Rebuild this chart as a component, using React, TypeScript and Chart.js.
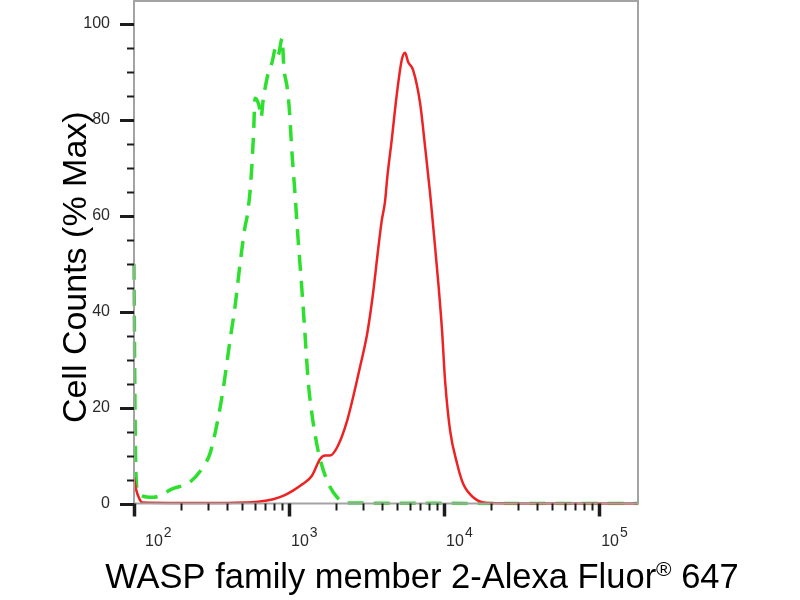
import React, { useEffect, useRef } from "react";
import { Chart, registerables } from "chart.js";

Chart.register(...registerables);

// ---- data ----
const redX = [100, 103, 109, 113, 200, 400, 520, 650, 790, 915, 1060, 1230, 1405, 1585, 1710, 1840, 2070, 2370, 2590, 2870, 3190, 3480, 3770, 3960, 4160, 4300, 4600, 4960, 5330, 5600, 5860, 6310, 7000, 7540, 8120, 8490, 9140, 9700, 10140, 10930, 12130, 13270, 15390, 18930, 40000, 178000];
const redY = [5.5, 3, 0.8, 0.2, 0.1, 0.1, 0.2, 0.4, 0.9, 1.6, 2.7, 4.1, 5.8, 9.3, 10, 10, 12.1, 17.3, 22.2, 28.5, 35.4, 43.8, 53.5, 59, 63, 68, 76, 85.5, 92.5, 94, 92.1, 90.4, 83.5, 74.4, 64.7, 58, 46.6, 36, 25.7, 15.2, 8.3, 4.1, 1.3, 0.1, 0, 0];

const greenX = [100, 101.5, 103, 106, 109, 133, 178, 230, 279, 309, 343, 375, 416, 448, 483, 520, 536, 560, 577, 590, 604, 640, 660, 680, 733, 777, 820, 850, 902, 925, 971, 1000, 1045, 1093, 1127, 1214, 1269, 1327, 1400, 1540, 1758, 2040, 2366, 178000];
const greenY = [50, 20, 6, 2.5, 1.8, 1.3, 3.1, 4.5, 7.6, 10.4, 16.6, 23.6, 34, 41, 50, 57.7, 59.8, 65, 71, 77, 84.5, 83, 80.5, 84, 89.7, 92, 95, 93.5, 97, 91, 86.9, 83, 73, 64.5, 58, 44, 35, 25.7, 19, 11, 4.8, 1.3, 0.1, 0];

const yTickValues = [0, 5, 10, 15, 20, 25, 30, 35, 40, 45, 50, 55, 60, 65, 70, 75, 80, 85, 90, 95, 100];
const yLabelValues = [0, 20, 40, 60, 80, 100];
const xDecades = [100, 1000, 10000, 100000];
const xExponents = ["2", "3", "4", "5"];
const xMinorMultipliers = [2, 3, 4, 5, 6, 7, 8, 9];
const xMin = 100;
const xMax = 178000;
const yMin = 0;
const yMax = 104.8;

const yTitle = "Cell Counts (% Max)";
const xTitleMain = "WASP family member 2-Alexa Fluor";
const xTitleSup = "\u00AE";
const xTitleEnd = " 647";

const FONT = '"Liberation Sans", Arial, Helvetica, sans-serif';

const xTickValues: number[] = [];
xDecades.forEach((d) => {
  xTickValues.push(d);
  xMinorMultipliers.forEach((m) => {
    if (d * m <= xMax) xTickValues.push(d * m);
  });
});

const decorPlugin = {
  id: "decor",
  afterDraw(chart: any) {
    const { ctx, chartArea: a, scales } = chart;
    const xs = scales.x;
    const ys = scales.y;
    ctx.save();
    // frame
    ctx.strokeStyle = "#a3a3a3";
    ctx.lineWidth = 2;
    ctx.strokeRect(a.left, a.top, a.right - a.left, a.bottom - a.top);

    // y ticks
    ctx.strokeStyle = "#1c1c1c";
    yTickValues.forEach((v) => {
      const py = Math.round(ys.getPixelForValue(v)) + 0.5;
      const major = yLabelValues.includes(v);
      ctx.lineWidth = major ? 3 : 2;
      ctx.beginPath();
      ctx.moveTo(a.left - (major ? 14 : 7), py);
      ctx.lineTo(a.left, py);
      ctx.stroke();
    });

    // x ticks
    xTickValues.forEach((v) => {
      const px = Math.round(xs.getPixelForValue(v)) + 0.5;
      const major = xDecades.includes(v);
      ctx.lineWidth = major ? 3.5 : 2;
      ctx.beginPath();
      ctx.moveTo(px, a.bottom);
      ctx.lineTo(px, a.bottom + (major ? 13 : 7));
      ctx.stroke();
    });

    // x tick labels 10^n
    ctx.fillStyle = "#2a2a2a";
    ctx.textAlign = "left";
    ctx.textBaseline = "alphabetic";
    xDecades.forEach((d, i) => {
      const px = xs.getPixelForValue(d);
      const sx = Math.max(px + 2, a.left + 11);
      ctx.font = `16px ${FONT}`;
      ctx.fillText("10", sx, a.bottom + 42.5);
      const w = ctx.measureText("10").width;
      ctx.font = `14px ${FONT}`;
      ctx.fillText(xExponents[i], sx + w + 1, a.bottom + 33.5);
    });

    // y title
    ctx.fillStyle = "#000";
    ctx.font = `34px ${FONT}`;
    ctx.save();
    ctx.translate(a.left - 48, (a.top + a.bottom) / 2 + 15);
    ctx.rotate(-Math.PI / 2);
    ctx.textAlign = "center";
    ctx.fillText(yTitle, 0, 0);
    ctx.restore();

    // x title with superscript ®
    ctx.font = `34.5px ${FONT}`;
    const w1 = ctx.measureText(xTitleMain).width;
    const w3 = ctx.measureText(xTitleEnd).width;
    ctx.font = `21px ${FONT}`;
    const w2 = ctx.measureText(xTitleSup).width;
    const total = w1 + w2 + w3;
    const cx = a.left + 288;
    let sx = cx - total / 2;
    const by = a.bottom + 84.5;
    ctx.textAlign = "left";
    ctx.font = `34.5px ${FONT}`;
    ctx.fillText(xTitleMain, sx, by);
    sx += w1;
    ctx.font = `21px ${FONT}`;
    ctx.fillText(xTitleSup, sx, by - 12);
    sx += w2;
    ctx.font = `34.5px ${FONT}`;
    ctx.fillText(xTitleEnd, sx, by);
    ctx.restore();
  },
};

export default function App() {
  const ref = useRef<HTMLCanvasElement | null>(null);
  useEffect(() => {
    if (!ref.current) return;
    const redData = redX.map((x, i) => ({ x, y: redY[i] }));
    const greenData = greenX.map((x, i) => ({ x, y: greenY[i] }));
    const chart = new Chart(ref.current, {
      type: "line",
      data: {
        datasets: [
          {
            label: "WASP family member 2",
            data: redData,
            borderColor: "#ee2222",
            borderWidth: 2.5,
            pointRadius: 0,
            fill: false,
            cubicInterpolationMode: "monotone",
            clip: { left: 3, top: 0, right: 0, bottom: 2 },
          },
          {
            label: "Isotype control",
            data: greenData,
            borderColor: "#2ee02e",
            borderWidth: 3.5,
            borderDash: [16, 10],
            pointRadius: 0,
            fill: false,
            cubicInterpolationMode: "monotone",
            clip: { left: 3, top: 0, right: 0, bottom: 2 },
          },
        ],
      },
      options: {
        responsive: false,
        animation: false,
        devicePixelRatio: 1,
        layout: { padding: { left: 0, top: 1, right: 162, bottom: 0 } },
        plugins: { legend: { display: false }, tooltip: { enabled: false } },
        scales: {
          x: {
            type: "logarithmic",
            min: xMin,
            max: xMax,
            afterBuildTicks: (s: any) => {
              s.ticks = xTickValues.map((v) => ({ value: v }));
            },
            afterFit: (s: any) => {
              s.height = 96.5;
              s.paddingLeft = 0;
              s.paddingRight = 0;
              s.paddingTop = 0;
              s.paddingBottom = 0;
            },
            grid: { display: false },
            border: { display: false },
            ticks: { display: false },
          },
          y: {
            type: "linear",
            min: yMin,
            max: yMax,
            afterBuildTicks: (s: any) => {
              s.ticks = yTickValues.map((v) => ({ value: v }));
            },
            afterFit: (s: any) => {
              s.width = 134;
              s.paddingTop = 0;
              s.paddingBottom = 0;
              s.paddingLeft = 0;
              s.paddingRight = 0;
            },
            grid: {
              display: true,
              drawOnChartArea: false,
              drawTicks: true,
              tickLength: 14,
              tickColor: "rgba(0,0,0,0)",
            },
            border: { display: false },
            ticks: {
              padding: 10,
              color: "#2a2a2a",
              font: { family: FONT, size: 16 },
              autoSkip: false,
              callback: (v: any) => (yLabelValues.includes(Number(v)) ? String(v) : ""),
            },
          },
        },
      },
      plugins: [decorPlugin],
    });
    return () => chart.destroy();
  }, []);
  return (
    <div style={{ position: "fixed", left: 0, top: 0, width: 800, height: 600, background: "#fff" }}>
      <canvas ref={ref} width={800} height={600} style={{ display: "block" }} />
    </div>
  );
}
